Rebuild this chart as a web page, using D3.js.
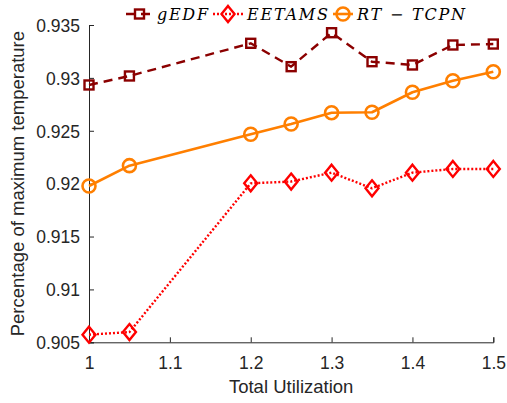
<!DOCTYPE html>
<html>
<head>
<meta charset="utf-8">
<script src="https://cdn.jsdelivr.net/npm/d3@7"></script>
<style>
html,body{margin:0;padding:0;background:#fff;}
svg{display:block;}
</style>
</head>
<body>
<svg id="chart" width="507" height="403"></svg>
<script>
const utilization = [1, 1.05, 1.2, 1.25, 1.3, 1.35, 1.4, 1.45, 1.5];
const gEDF   = [0.92933, 0.93018, 0.93327, 0.93106, 0.93427, 0.93153, 0.93122, 0.93311, 0.93320];
const EETAMS = [0.90572, 0.90597, 0.92003, 0.92020, 0.92104, 0.91956, 0.92104, 0.92139, 0.92139];
const RTTCPN = [0.91978, 0.92170, 0.92467, 0.92564, 0.92671, 0.92675, 0.92864, 0.92973, 0.93058];
const xTicks = [1, 1.1, 1.2, 1.3, 1.4, 1.5];
const yTicks = [0.905, 0.91, 0.915, 0.92, 0.925, 0.93, 0.935];
const seriesNames = ["gEDF", "EETAMS", "RT \u2212 TCPN"];

const svg = d3.select("#chart");
const L = 89, R = 493.3, T = 25, B = 342.3;
const x = d3.scaleLinear().domain([1, 1.5]).range([L, R]);
const y = d3.scaleLinear().domain([0.905, 0.935]).range([B, T]);
const axisColor = "#262626";
const font = "'Liberation Sans', Arial, Helvetica, sans-serif";

// axes
const xAxis = svg.append("g").attr("transform", `translate(0,${B})`)
  .call(d3.axisBottom(x).tickValues(xTicks).tickSize(-5).tickPadding(10).tickFormat(d3.format("")));
const yAxis = svg.append("g").attr("transform", `translate(${L},0)`)
  .call(d3.axisLeft(y).tickValues(yTicks).tickSize(-5).tickPadding(9).tickFormat(d => String(+d.toFixed(3))));
[xAxis, yAxis].forEach(g => {
  g.select(".domain").attr("stroke", axisColor).attr("stroke-width", 1);
  g.selectAll(".tick line").attr("stroke", axisColor).attr("stroke-width", 1);
  g.selectAll(".tick text").attr("fill", axisColor).style("font-family", font).style("font-size", "17.5px");
});
xAxis.selectAll(".tick text").attr("dy", "0.95em");
yAxis.selectAll(".tick text").attr("dy", "0.36em");

// labels
svg.append("text").attr("x", (L + R) / 2).attr("y", 393).attr("text-anchor", "middle")
  .attr("fill", axisColor).style("font-family", font).style("font-size", "18.5px").text("Total Utilization");
svg.append("text").attr("transform", `translate(24,${(T + B) / 2}) rotate(-90)`).attr("text-anchor", "middle")
  .attr("fill", axisColor).style("font-family", font).style("font-size", "18.5px").text("Percentage of maximum temperature");

const styles = [
  {data: gEDF, color: "#8b0000", dash: "9,6", width: 2.4, marker: "square"},
  {data: EETAMS, color: "#ff0000", dash: "2,2", width: 2.4, marker: "diamond"},
  {data: RTTCPN, color: "#ff7f00", dash: null, width: 2.6, marker: "circle"}
];

function drawMarker(g, type, color) {
  if (type === "square") {
    g.append("rect").attr("x", -4.5).attr("y", -4.5).attr("width", 9).attr("height", 9)
      .attr("fill", "none").attr("stroke", color).attr("stroke-width", 2.4);
  } else if (type === "diamond") {
    g.append("path").attr("d", "M0,-8L6.5,0L0,8L-6.5,0Z")
      .attr("fill", "none").attr("stroke", color).attr("stroke-width", 2.4);
  } else {
    g.append("circle").attr("r", 6.5).attr("fill", "none").attr("stroke", color).attr("stroke-width", 2.6);
  }
}

const line = d3.line().x((d, i) => x(utilization[i])).y(d => y(d));
styles.forEach(s => {
  svg.append("path").datum(s.data).attr("d", line).attr("fill", "none")
    .attr("stroke", s.color).attr("stroke-width", s.width)
    .attr("stroke-dasharray", s.dash).attr("stroke-linejoin", "round");
  s.data.forEach((v, i) => {
    const g = svg.append("g").attr("transform", `translate(${x(utilization[i])},${y(v)})`);
    drawMarker(g, s.marker, s.color);
  });
});

// legend
const legendItems = [
  {x0: 126, x1: 153, tx: 157, tw: 51},
  {x0: 213, x1: 243, tx: 247, tw: 81},
  {x0: 333, x1: 353, tx: 357, tw: 108}
];
legendItems.forEach((it, i) => {
  const s = styles[i];
  const ly = 14;
  svg.append("line").attr("x1", it.x0).attr("x2", it.x1).attr("y1", ly).attr("y2", ly)
    .attr("stroke", s.color).attr("stroke-width", s.width).attr("stroke-dasharray", s.dash);
  const g = svg.append("g").attr("transform", `translate(${(it.x0 + it.x1) / 2},${ly})`);
  drawMarker(g, s.marker, s.color);
  svg.append("text").attr("x", it.tx).attr("y", ly + 5.5)
    .attr("textLength", it.tw).attr("lengthAdjust", "spacing")
    .attr("fill", "#000").style("font-family", "'DejaVu Serif', 'Liberation Serif', serif")
    .style("font-style", "italic").style("font-size", "16px").text(seriesNames[i]);
});
</script>
</body>
</html>
